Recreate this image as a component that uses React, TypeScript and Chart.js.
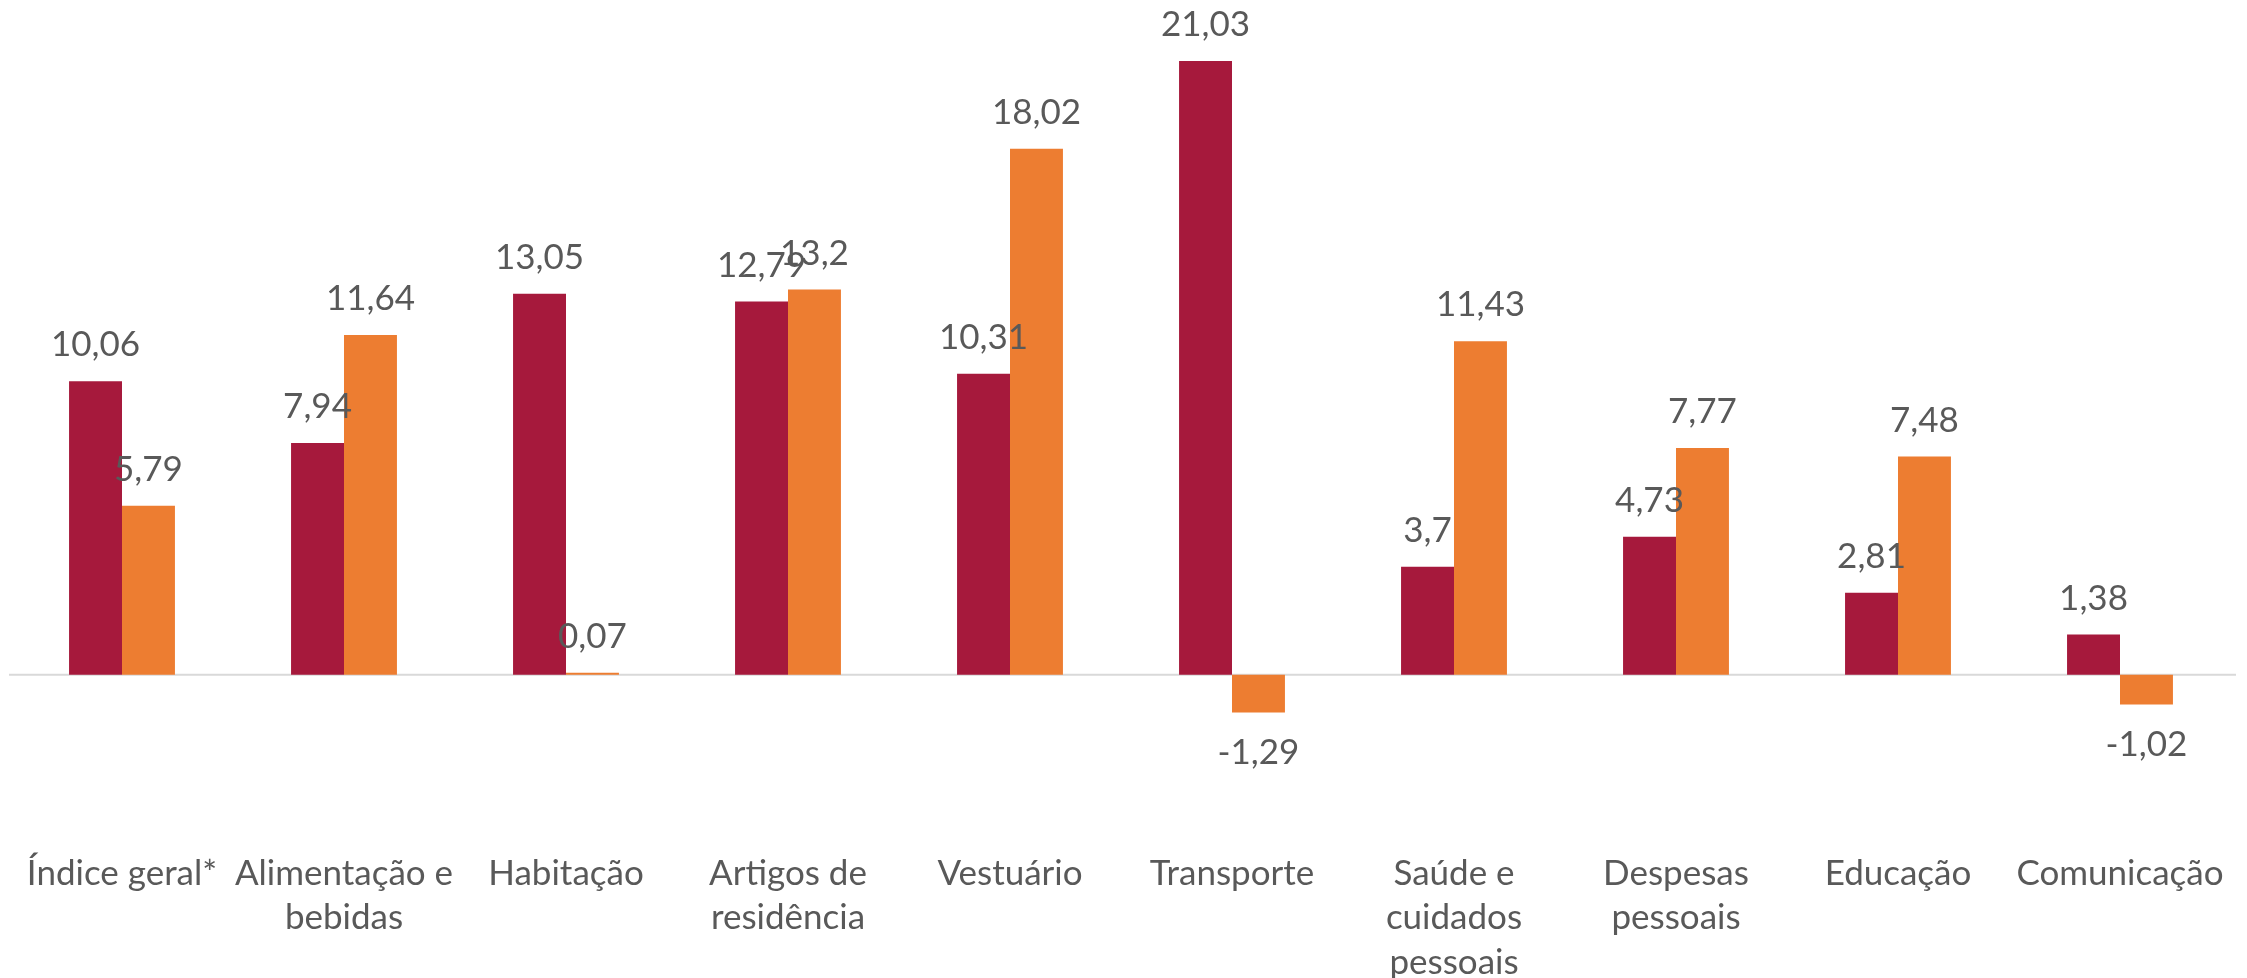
import React, { useEffect, useRef } from "react";
import { Chart, registerables } from "chart.js";

Chart.register(...registerables);

const categories = [
  "Índice geral*",
  "Alimentação e bebidas",
  "Habitação",
  "Artigos de residência",
  "Vestuário",
  "Transporte",
  "Saúde e cuidados pessoais",
  "Despesas pessoais",
  "Educação",
  "Comunicação",
];

const tickLabels = [
  ["Índice geral*"],
  ["Alimentação e", "bebidas"],
  ["Habitação"],
  ["Artigos de", "residência"],
  ["Vestuário"],
  ["Transporte"],
  ["Saúde e", "cuidados", "pessoais"],
  ["Despesas", "pessoais"],
  ["Educação"],
  ["Comunicação"],
];

const serieA = [10.06, 7.94, 13.05, 12.79, 10.31, 21.03, 3.7, 4.73, 2.81, 1.38];
const serieB = [5.79, 11.64, 0.07, 13.2, 18.02, -1.29, 11.43, 7.77, 7.48, -1.02];

const seriesNames = ["Série 1", "Série 2"];
const seriesColors = ["#A6193C", "#ED7D31"];

const FONT = "Lato, 'Noto Sans', sans-serif";
const TEXT_COLOR = "#595959";

const fmt = (v: number) => String(v).replace(".", ",");

const zeroLinePlugin = {
  id: "zeroLine",
  beforeDatasetsDraw(chart: any) {
    const { ctx, chartArea, scales } = chart;
    const y = scales.y.getPixelForValue(0);
    ctx.save();
    ctx.strokeStyle = "#D9D9D9";
    ctx.lineWidth = 2;
    ctx.beginPath();
    ctx.moveTo(chartArea.left - 2, y);
    ctx.lineTo(chartArea.right + 5, y);
    ctx.stroke();
    ctx.restore();
  },
};

const dataLabelPlugin = {
  id: "dataLabels",
  afterDatasetsDraw(chart: any) {
    const { ctx } = chart;
    ctx.save();
    ctx.fillStyle = TEXT_COLOR;
    ctx.font = `35px ${FONT}`;
    ctx.textAlign = "center";
    ctx.textBaseline = "middle";
    chart.data.datasets.forEach((ds: any, di: number) => {
      const meta = chart.getDatasetMeta(di);
      meta.data.forEach((el: any, i: number) => {
        const v = ds.data[i] as number;
        const ty = v >= 0 ? el.y - 36 : el.y + 40;
        ctx.fillText(fmt(v), el.x, ty);
      });
    });
    ctx.restore();
  },
};

export default function App() {
  const canvasRef = useRef<HTMLCanvasElement | null>(null);

  useEffect(() => {
    document.body.style.margin = "0";
    const canvas = canvasRef.current;
    if (!canvas) return;
    const chart = new Chart(canvas, {
      type: "bar",
      data: {
        labels: tickLabels as any,
        datasets: [
          {
            label: seriesNames[0],
            data: serieA,
            backgroundColor: seriesColors[0],
            categoryPercentage: 0.477,
            barPercentage: 1,
          },
          {
            label: seriesNames[1],
            data: serieB,
            backgroundColor: seriesColors[1],
            categoryPercentage: 0.477,
            barPercentage: 1,
          },
        ],
      },
      options: {
        responsive: false,
        animation: false,
        devicePixelRatio: 1,
        layout: { padding: { left: 11, right: 16, top: 18, bottom: 0 } },
        plugins: {
          legend: { display: false },
          tooltip: { enabled: false },
          title: { display: false },
        },
        scales: {
          x: {
            grid: { display: false, drawTicks: false },
            border: { display: false },
            ticks: {
              color: TEXT_COLOR,
              font: { family: FONT, size: 35, lineHeight: 1.26 },
              maxRotation: 0,
              minRotation: 0,
              autoSkip: false,
              padding: 2,
            },
            afterFit: (scale: any) => {
              scale.height = 128;
            },
          },
          y: {
            display: false,
            min: -6,
            max: 22.5,
          },
        },
      },
      plugins: [zeroLinePlugin, dataLabelPlugin],
    });
    return () => chart.destroy();
  }, []);

  return (
    <div style={{ position: "absolute", left: 0, top: 0, width: 2247, height: 978 }}>
      <canvas
        ref={canvasRef}
        width={2247}
        height={978}
        style={{ display: "block", width: 2247, height: 978 }}
        aria-label={categories.join(", ")}
      />
    </div>
  );
}
